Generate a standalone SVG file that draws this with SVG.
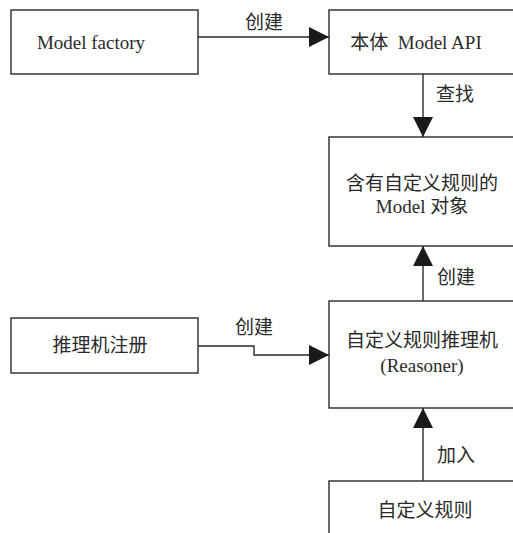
<svg xmlns="http://www.w3.org/2000/svg" width="513" height="533" viewBox="0 0 513 533">
<defs>
<style>
.box{fill:#fff;stroke:#2a2a2a;stroke-width:1.4}
.conn{fill:none;stroke:#2a2a2a;stroke-width:1.4}
text{font-family:"Liberation Serif","Noto Sans CJK SC",serif;font-size:19px;fill:#2a2a2a;text-anchor:middle;dominant-baseline:central}
</style>
<marker id="ah" viewBox="0 0 20 20" refX="20" refY="10" markerWidth="20" markerHeight="20" markerUnits="userSpaceOnUse" orient="auto">
<path d="M0,0 L20,10 L0,20 Z" fill="#1a1a1a"/>
</marker>
</defs>
<rect width="513" height="533" fill="#fff"/>
<g id="connectors">
<line class="conn" x1="198" y1="37" x2="329" y2="37" marker-end="url(#ah)"/>
<text x="264" y="22">创建</text>
<line class="conn" x1="423" y1="74" x2="423" y2="137" marker-end="url(#ah)"/>
<text x="455" y="94">查找</text>
<line class="conn" x1="423" y1="301" x2="423" y2="246" marker-end="url(#ah)"/>
<text x="456" y="277">创建</text>
<polyline class="conn" points="198,346 254,346 254,355 329,355" marker-end="url(#ah)"/>
<text x="254" y="327">创建</text>
<line class="conn" x1="423" y1="481" x2="423" y2="408" marker-end="url(#ah)"/>
<text x="456" y="455">加入</text>
</g>
<g id="model-factory">
<rect class="box" x="11" y="10" width="187" height="64"/>
<text x="91" y="42">Model factory</text>
</g>
<g id="model-api">
<rect class="box" x="329" y="10" width="200" height="64"/>
<text x="416" y="42" xml:space="preserve">本体  Model API</text>
</g>
<g id="model-object">
<rect class="box" x="329" y="137" width="200" height="109"/>
<text x="422" y="183">含有自定义规则的</text>
<text x="422" y="206">Model 对象</text>
</g>
<g id="registry">
<rect class="box" x="11" y="318" width="187" height="55"/>
<text x="100" y="345">推理机注册</text>
</g>
<g id="reasoner">
<rect class="box" x="329" y="301" width="200" height="107"/>
<text x="422" y="340">自定义规则推理机</text>
<text x="422" y="365">(Reasoner)</text>
</g>
<g id="rules">
<rect class="box" x="329" y="481" width="200" height="70"/>
<text x="425" y="510">自定义规则</text>
</g>
</svg>
